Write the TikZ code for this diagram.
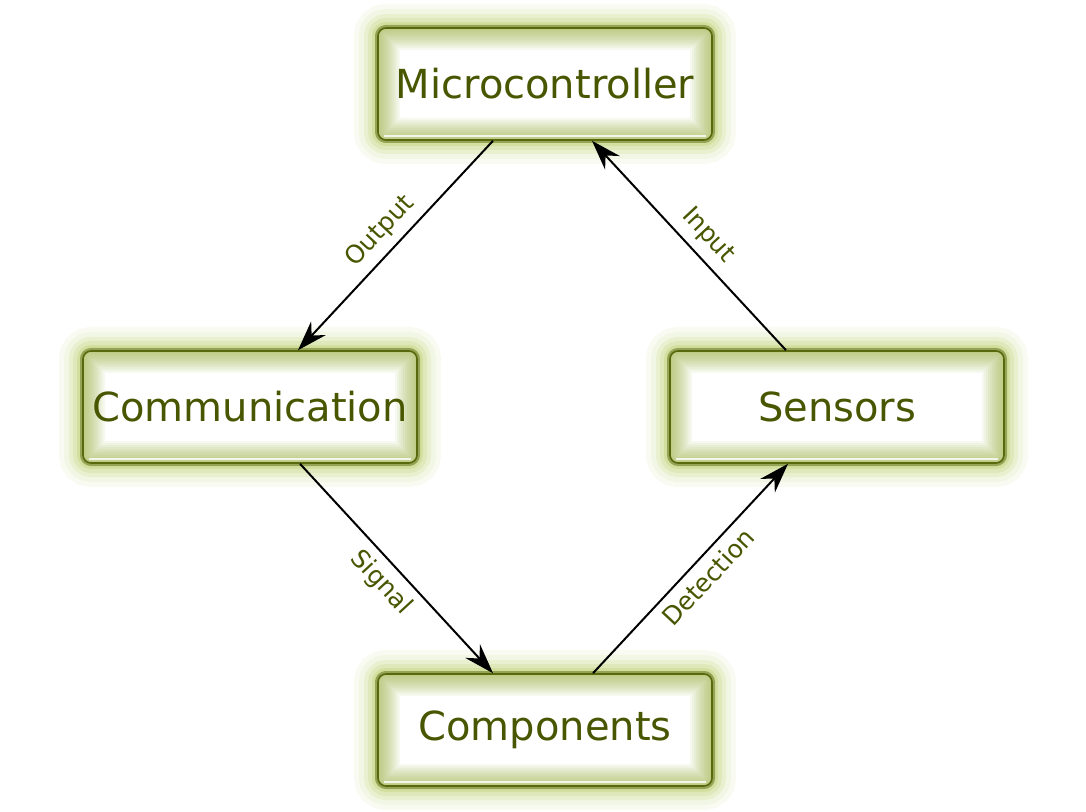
\documentclass[tikz,border=0pt]{standalone}
\usepackage{fontspec}
\setmainfont{DejaVu Sans}
\usepackage{tikz}
\usetikzlibrary{arrows.meta}

\definecolor{olivetext}{RGB}{72,86,0}
\definecolor{olivedark}{RGB}{88,104,12}
\definecolor{oliveinner}{RGB}{140,165,35}
\definecolor{oliveglow}{RGB}{160,188,50}

\begin{document}
\begin{tikzpicture}[x=0.5pt, y=-0.5pt,
  unit/.style={rounded corners=4pt, minimum width=167pt, minimum height=56pt,
    inner sep=0pt, fill=white, draw=olivedark, line width=0.8pt,
    text=olivetext, font=\fontsize{20}{24}\selectfont,
    preaction={draw=oliveglow, line width=24pt, opacity=0.06},
    preaction={draw=oliveglow, line width=19pt, opacity=0.08},
    preaction={draw=oliveglow, line width=14pt, opacity=0.11},
    preaction={draw=oliveglow, line width=10pt, opacity=0.14},
    preaction={draw=oliveglow, line width=6pt, opacity=0.2},
    preaction={draw=olivedark, line width=3pt, opacity=0.5},
    path picture={
      \foreach \w in {2,4,...,22}
        \draw[oliveinner, line width=\w pt, opacity=0.065]
          (path picture bounding box.south west) rectangle (path picture bounding box.north east);
      \draw[white, line width=0.6pt, opacity=0.8]
        ([shift={(3pt,2pt)}]path picture bounding box.south west) -- ([shift={(-3pt,2pt)}]path picture bounding box.south east);
    }},
  flow/.style={-{Stealth[length=15pt, width=10pt, inset=5pt]}, line width=1pt},
  lab/.style={sloped, text=olivetext, font=\fontsize{12.5}{14}\selectfont, inner sep=4pt}]
  \useasboundingbox (0,0) rectangle (1086,812);
  % the four units
  \node[unit] (mcu) at (545,84) {Microcontroller};
  \node[unit] (comm) at (250,407) {Communication};
  \node[unit] (sens) at (837,407) {Sensors};
  \node[unit] (comp) at (545,730) {Components};
  % data flow round the loop
  \draw[flow] ([xshift=-26pt]mcu.south) -- node[lab, above] {Output} ([xshift=24pt]comm.north);
  \draw[flow] ([xshift=25pt]comm.south) -- node[lab, below] {Signal} ([xshift=-26pt]comp.north);
  \draw[flow] ([xshift=24pt]comp.north) -- node[lab, below, pos=0.52] {Detection} ([xshift=-24.5pt]sens.south);
  \draw[flow] ([xshift=-25.5pt]sens.north) -- node[lab, above, pos=0.48] {Input} ([xshift=23.5pt]mcu.south);
\end{tikzpicture}
\end{document}
